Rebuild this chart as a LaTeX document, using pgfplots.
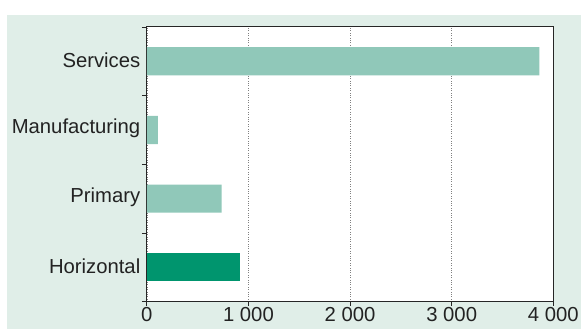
\documentclass[border=0pt]{standalone}
\usepackage{pgfplots}
\pgfplotsset{compat=1.18}
\usepackage{fontspec}
\setmainfont{Liberation Sans}
\definecolor{bgc}{HTML}{E0EEE8}
\definecolor{lightbar}{HTML}{90C8B9}
\definecolor{darkbar}{HTML}{00956E}
\definecolor{textc}{HTML}{222222}
\begin{document}
\begin{tikzpicture}[x=1pt,y=1pt]
\fill[white] (0,0) rectangle (582,329);
\fill[bgc] (7,0) rectangle (582,314);
\begin{axis}[at={(147pt,27pt)}, anchor=south west, width=407pt, height=275pt, scale only axis,
 xmin=0, xmax=4000, ymin=-0.5, ymax=3.5,
 axis background/.style={fill=white},
 xtick={0,1000,2000,3000,4000},
 xticklabels={0,1 000,2 000,3 000,4 000},
 ytick={0,1,2,3}, yticklabels={Horizontal,Primary,Manufacturing,Services},
 minor ytick={-0.5,0.5,1.5,2.5,3.5},
 xtick pos=bottom, ytick pos=left,
 tick align=outside,
 major tick length=4pt, minor tick length=5pt,
 y tick style={draw=none},
 minor y tick style={draw=black!85, line width=0.9pt},
 x tick style={draw=black!85, line width=0.9pt},
 ticklabel style={font=\fontsize{20.3}{24}\selectfont, text=textc},
 yticklabel style={xshift=1pt, yshift=1.5pt},
 xticklabel style={yshift=1.5pt},
 xmajorgrids, grid style={dotted, black!50, line width=0.6pt},
 axis line style={draw=black!85, line width=1pt},
 clip=false,
]
\addplot[xbar, bar width=0.41, bar shift=0pt, fill=lightbar, draw=none] coordinates {(737,1) (108,2) (3862,3)};
\addplot[xbar, bar width=0.41, bar shift=0pt, fill=darkbar, draw=none] coordinates {(914,0)};
\end{axis}
\end{tikzpicture}
\end{document}
